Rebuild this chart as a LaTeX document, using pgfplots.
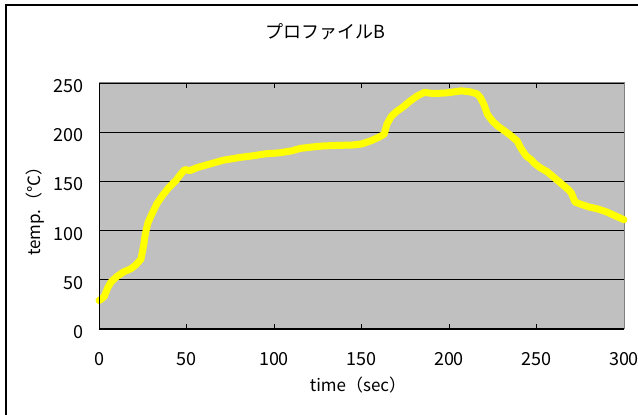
\documentclass[border=0pt]{standalone}
\usepackage{pgfplots}
\pgfplotsset{compat=1.18}
\usepackage{fontspec}
\setmainfont{Noto Sans CJK JP}
\definecolor{bggray}{HTML}{C0C0C0}
\definecolor{framegray}{HTML}{808080}
\definecolor{lineyellow}{HTML}{FFFF00}
\begin{document}
\begin{tikzpicture}[x=1pt,y=1pt]
\path[use as bounding box] (0,0) rectangle (638,415);
\draw[line width=1.2pt] (6,-5) -- (6,410) -- (650,410);
\begin{axis}[at={(99pt,86pt)}, anchor=south west, width=525pt, height=246pt, scale only axis,
  xmin=0, xmax=300, ymin=0, ymax=250,
  xtick={0,50,...,300}, ytick={0,50,...,250},
  axis background/.style={fill=bggray},
  axis line style={draw=framegray, line width=1pt},
  ymajorgrids, grid style={black, line width=0.8pt},
  tick align=inside, major tick length=5pt, tick style={black, line width=0.8pt},
  /pgf/number format/assume math mode=true,
  ticklabel style={font=\fontsize{18}{18}\selectfont, inner sep=0pt},
  xticklabel style={anchor=center, yshift=-30pt},
  yticklabel style={anchor=east, xshift=-15pt, yshift=-3pt},
  clip=false]
\addplot[lineyellow, line width=7pt, line cap=round, line join=round] coordinates {
(0,29)(1,30)(3,33)(5,42)(7,48)(10,53)(14,58)(18,61)(21,65)(24,71)(25.5,85)(26.5,97)(28,108)(30,116)(33,127)(36,135)(40,144)(44,151)(47,158)(49,162)(52,161)(56,164)(61,166.5)(66,169)(71,171.5)(76,173)(81,174.5)(88,176)(95,178)(103,179)(110,181)(115,183.5)(122,185)(128,186)(135,186.5)(145,187)(150,188)(155,191)(160,195)(163,198)(164.5,208)(167,216)(170,221)(174,226)(178,232)(182,237)(186,240.5)(190,239.5)(194,239.5)(199,240)(203,241)(207,242)(212,241)(216,239)(218,235)(220,228)(222,218)(225,211)(228,206)(232,201)(235,197)(239,191)(241,184)(244,176)(247,172)(249,168)(252,164)(256,160)(260,154)(264,148)(268,142)(270,138)(272,129)(275,127)(280,124)(285,122)(290,119)(295,115)(300,111)
};
\draw[black, line width=1pt] (rel axis cs:0,1) -- (rel axis cs:0,0) -- (rel axis cs:1,0);
\end{axis}
\node[font=\fontsize{18}{18}\selectfont] at (325,383) {プロファイルB};
\node[font=\fontsize{17}{17}\selectfont] at (358,30) {time（sec）};
\node[font=\fontsize{17}{17}\selectfont, rotate=90] at (35,208) {temp.（℃）};
\end{tikzpicture}
\end{document}
